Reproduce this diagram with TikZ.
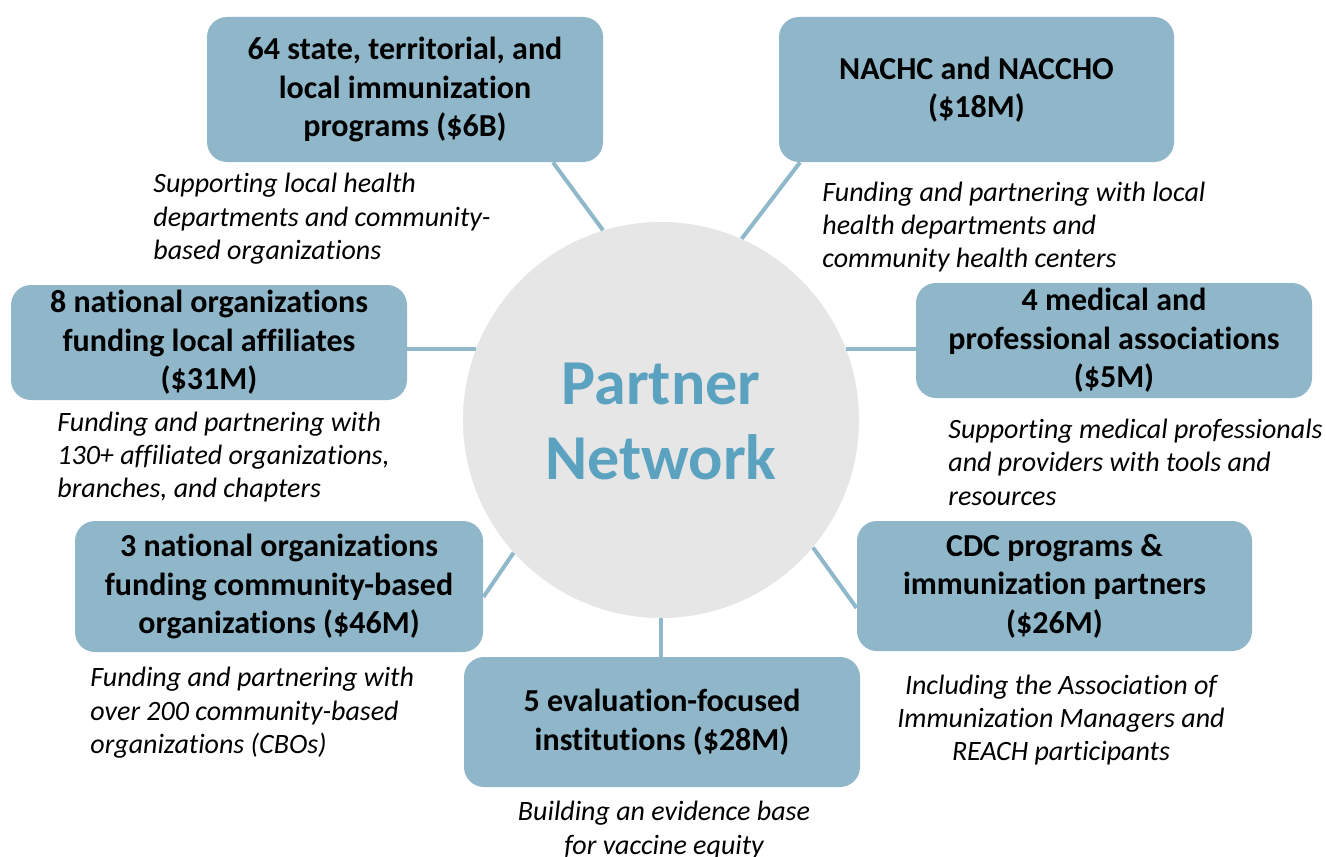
\documentclass[tikz,border=0pt]{standalone}
\usepackage{fontspec}
\setmainfont{Carlito}[RawFeature={-liga;-clig;-dlig;-calt}]
\definecolor{boxfill}{HTML}{8FB6C9}
\definecolor{linkcol}{HTML}{8FB8CB}
\definecolor{circfill}{HTML}{E6E6E6}
\definecolor{ctext}{HTML}{5AA2BF}
\tikzset{
  orgbox/.style={rectangle, rounded corners=10pt, fill=boxfill, inner sep=0pt, align=center,
    font=\bfseries\fontsize{16}{19.2}\selectfont},
  note/.style={inner sep=0pt, align=left, font=\itshape\fontsize{14}{16.7}\selectfont},
  notec/.style={inner sep=0pt, align=center, font=\itshape\fontsize{14}{16.7}\selectfont},
  link/.style={draw=linkcol, line width=2pt}
}
\begin{document}
\begin{tikzpicture}[x=0.5pt, y=-0.5pt]
\useasboundingbox (0,0) rectangle (1326,856);
\clip (0,0) rectangle (1326,856);
\fill[white] (0,0) rectangle (1326,856);

% central circle (drawn as node for anchors)
\node[circle, fill=circfill, minimum size=198pt, inner sep=0pt] (c) at (661,420) {};

% boxes
\node[orgbox, minimum width=198pt, minimum height=72.5pt] (b1) at (405,89.5)
  {64 state, territorial, and\\local immunization\\programs (\$6B)};
\node[orgbox, minimum width=197.5pt, minimum height=72.5pt] (b2) at (976.5,89.5)
  {NACHC and NACCHO\\(\$18M)};
\node[orgbox, minimum width=198pt, minimum height=57.5pt] (b3) at (209,342.5)
  {8 national organizations\\funding local affiliates\\(\$31M)};
\node[orgbox, minimum width=198pt, minimum height=57.5pt] (b4) at (1114,340.5)
  {4 medical and\\professional associations\\(\$5M)};
\node[orgbox, minimum width=204pt, minimum height=65.5pt] (b5) at (279,586.5)
  {3 national organizations\\funding community-based\\organizations (\$46M)};
\node[orgbox, minimum width=197.5pt, minimum height=65pt] (b6) at (1054.5,586)
  {CDC programs \&\\immunization partners\\(\$26M)};
\node[orgbox, minimum width=198pt, minimum height=65pt] (b7) at (662,722)
  {5 evaluation-focused\\institutions (\$28M)};

% connectors
\draw[link] (c.107.5) -- ([xshift=74pt]b1.south);
\draw[link] (c.66.3) -- ([xshift=-88.25pt]b2.south);
\draw[link] (c.159.3) -- (c.159.3 -| b3.east);
\draw[link] (c.21) -- (c.21 -| b4.west);
\draw[link] (c.222.7) -- ([yshift=-5.25pt]b5.east);
\draw[link] (c.320.6) -- ([yshift=-11pt]b6.west);
\draw[link] (c.south) -- (c.south |- b7.north);

% circle label
\node[align=center, inner sep=0pt, text=ctext, font=\bfseries\fontsize{32}{37.5}\selectfont] (lbl) at (661,421) {Partner\\Network};

% notes
\node[note, anchor=west] (t1) at (153,219) {Supporting local health\\departments and community-\\based organizations};
\node[note, anchor=west] (t2) at (822,227) {Funding and partnering with local\\health departments and\\community health centers};
\node[note, anchor=west] (t3) at (57,457) {Funding and partnering with\\130+ affiliated organizations,\\branches, and chapters};
\node[note, anchor=west] (t4) at (948,462) {Supporting medical professionals\\and providers with tools and\\resources};
\node[note, anchor=west] (t5) at (90,713) {Funding and partnering with\\over 200 community-based\\organizations (CBOs)};
\node[notec] (t6) at (1061,720) {Including the Association of\\Immunization Managers and\\REACH participants};
\node[notec] (t7) at (664,830) {Building an evidence base\\for vaccine equity};
\end{tikzpicture}
\end{document}
